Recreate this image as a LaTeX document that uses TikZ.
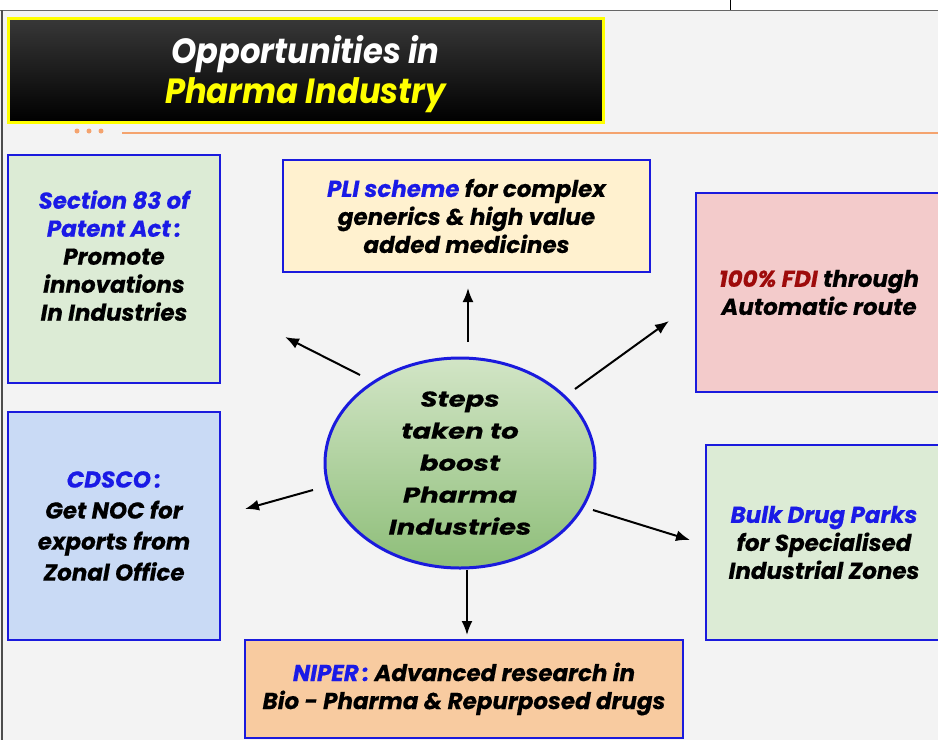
\documentclass[tikz,border=0pt]{standalone}
\usepackage{fontspec}
\setmainfont{Poppins}[BoldItalicFeatures={FakeBold=0.5}]
\newfontfamily\titlefont{Poppins}[FakeStretch=0.92]
\newfontfamily\corefont{Poppins}[FakeStretch=1.28, BoldItalicFeatures={FakeBold=0.5}]
\usetikzlibrary{shapes.geometric,arrows.meta}

\definecolor{bg}{HTML}{F3F3F3}
\definecolor{boxblue}{HTML}{1A1ADD}
\definecolor{hiblue}{HTML}{1A1AE6}
\definecolor{fdired}{HTML}{9E0B0B}
\definecolor{titleyellow}{HTML}{FFFF00}
\definecolor{dotorange}{HTML}{F4A36E}
\definecolor{secfill}{HTML}{DCEBD5}
\definecolor{plifill}{HTML}{FFF1CF}
\definecolor{fdifill}{HTML}{F3CBCB}
\definecolor{cdscofill}{HTML}{C9DAF5}
\definecolor{bulkfill}{HTML}{DCEBD5}
\definecolor{niperfill}{HTML}{F8CBA0}
\definecolor{coretop}{HTML}{D2E5C6}
\definecolor{corebot}{HTML}{8EBE79}

\begin{document}
\begin{tikzpicture}[x=1pt, y=-1pt,
        box/.style={draw=boxblue, line width=2.5pt, align=center, inner sep=0pt,
            font=\fontsize{23}{28}\selectfont\bfseries\itshape},
        arr/.style={-{Latex[length=14pt,width=11pt]}, line width=2pt, black}]

            \useasboundingbox (0,0) rectangle (938,740);
            \fill[white] (0,0) rectangle (938,10);
            \fill[bg] (0,10) rectangle (938,740);
            \draw[black!60, line width=1pt] (0,10) -- (938,10);
            \draw[black!70, line width=2pt] (2,10) -- (2,740);
            \draw[black, line width=1pt] (730,0) -- (730,10);

            % title
            \node[draw=titleyellow, line width=3pt, top color=black!78, bottom color=black,
                minimum width=595, minimum height=104, align=center, text depth=1pt,
                font=\titlefont\fontsize{35}{40}\selectfont\bfseries\itshape] (title) at (305.5,70)
                {\textcolor{white}{Opportunities in}\\\textcolor{titleyellow}{Pharma Industry}};
            \fill[dotorange] (77,131) circle (2.5pt) (89,131) circle (2.5pt) (101,131) circle (2.5pt);
            \draw[dotorange, line width=2pt] (122,133) -- (938,133);

            % centre
            \node[ellipse, draw=boxblue, line width=3pt, top color=coretop, bottom color=corebot,
                minimum width=270, minimum height=210, inner sep=0pt, align=center, text depth=0pt,
                font=\corefont\fontsize{21.5}{32}\selectfont\bfseries\itshape] (core) at (460,463)
                {Steps\\taken to\\boost\\Pharma\\Industries};

            % steps
            \node[box, fill=secfill, minimum width=212, minimum height=228, text depth=27pt] (sec) at (114,269)
                {\textcolor{hiblue}{Section 83 of}\\\textcolor{hiblue}{Patent Act\,:}\\Promote\\innovations\\In Industries};
            \node[box, fill=plifill, minimum width=367, minimum height=112] (pli) at (466.5,216)
                {\textcolor{hiblue}{PLI scheme} for complex\\generics \& high value\\added medicines};
            \node[box, fill=fdifill, minimum width=246, minimum height=199] (fdi) at (819,292.5)
                {\textcolor{fdired}{100\% FDI} through\\Automatic route};
            \node[box, fill=cdscofill, minimum width=212, minimum height=228,
                font=\fontsize{23}{31}\selectfont\bfseries\itshape] (cdsco) at (114,526)
                {\textcolor{hiblue}{CDSCO\,:}\\Get NOC for\\exports from\\Zonal Office};
            \node[box, fill=bulkfill, minimum width=236, minimum height=195] (bulk) at (824,542.5)
                {\textcolor{hiblue}{Bulk Drug Parks}\\for Specialised\\Industrial Zones};
            \node[box, fill=niperfill, minimum width=438, minimum height=98] (niper) at (464,689)
                {\textcolor{hiblue}{NIPER\,:} Advanced research in\\Bio - Pharma \& Repurposed drugs};

            % arrows
            \coordinate (secS) at (360,375);   \coordinate (secE) at (285,337);
            \coordinate (pliS) at (468,342);   \coordinate (pliE) at (468,288);
            \coordinate (fdiS) at (575,389);   \coordinate (fdiE) at (669,321);
            \coordinate (cdscoS) at (313,490); \coordinate (cdscoE) at (245,509);
            \coordinate (bulkS) at (593,510);  \coordinate (bulkE) at (690,540);
            \coordinate (niperS) at (467,570); \coordinate (niperE) at (467,635);

            \draw[arr] (secS) -- (secE);
            \draw[arr] (pliS) -- (pliE);
            \draw[arr] (fdiS) -- (fdiE);
            \draw[arr] (cdscoS) -- (cdscoE);
            \draw[arr] (bulkS) -- (bulkE);
            \draw[arr] (niperS) -- (niperE);

        \end{tikzpicture}
\end{document}
